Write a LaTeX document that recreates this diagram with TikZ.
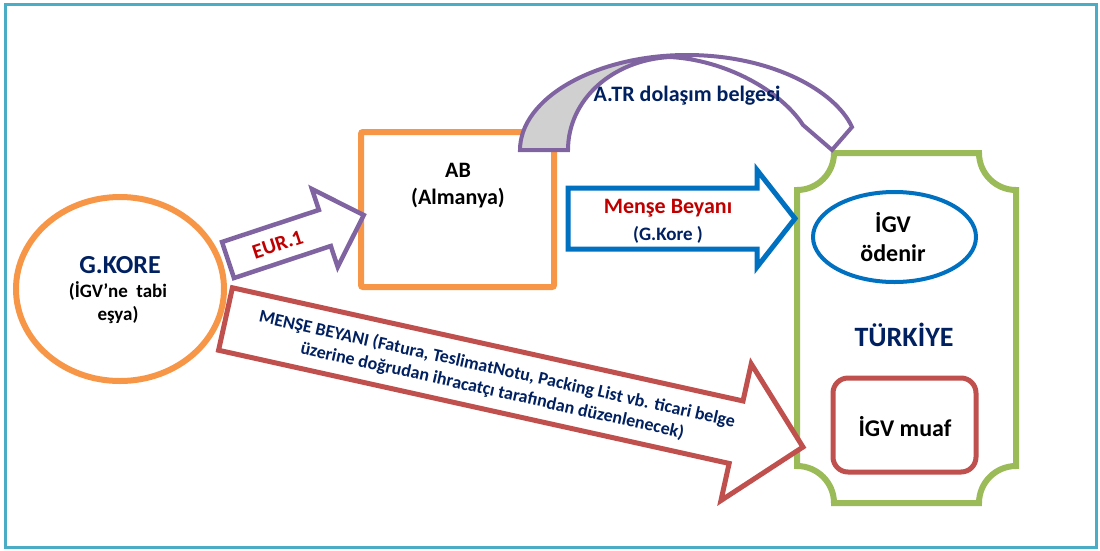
\documentclass[tikz,border=0pt]{standalone}
\usepackage{fontspec}
\setmainfont{Carlito}
\usetikzlibrary{shapes.geometric}
\definecolor{frameblue}{HTML}{4BACC6}
\definecolor{orng}{HTML}{F79646}
\definecolor{purp}{HTML}{8064A2}
\definecolor{blu}{HTML}{0070C0}
\definecolor{grn}{HTML}{9BBB59}
\definecolor{redd}{HTML}{C0504D}
\definecolor{navy}{HTML}{002060}
\definecolor{darkred}{HTML}{C00000}
\definecolor{greyfill}{HTML}{D0D0D0}
\newcommand{\fsz}[2]{\fontsize{#1}{#2}\selectfont}
\begin{document}
\begin{tikzpicture}[x=1pt,y=-1pt,
  txt/.style={inner sep=0pt, align=center, font=\bfseries},
  blockarrow/.style={line width=#1, fill=white, line join=miter, miter limit=10},
  ]
\useasboundingbox (0,0) rectangle (1100,550);
\draw[frameblue, line width=3] (5,4) rectangle (1096,547);

% G.KORE ellipse
\node[draw=orng, line width=6, ellipse, minimum width=208, minimum height=184, inner sep=0] (gkore) at (120,289) {};
\node[txt, text=navy, font=\bfseries\fsz{26}{30}] (gkoreA) at (120,265) {G.KORE};
\node[txt, text=black, font=\bfseries\fsz{19}{23}] (gkoreB) at (118,291) {(İGV’ne\ \ tabi};
\node[txt, text=black, font=\bfseries\fsz{19}{23}] (gkoreC) at (118,315) {eşya)};

% AB box
\node[draw=orng, line width=6, rounded corners=2, minimum width=193, minimum height=155, inner sep=0] (ab) at (457.5,209.5) {};
\node[txt, text=black, font=\bfseries\fsz{22}{26}] (abA) at (458,170) {AB};
\node[txt, text=black, font=\bfseries\fsz{22}{26}] (abB) at (458,198) {(Almanya)};

% Turkiye plaque
\draw[grn, line width=6, fill=white]
  (834,153) -- (979,153) .. controls (979,173.4) and (995.6,190) .. (1016,190)
  -- (1016,466) .. controls (995.6,466) and (979,482.6) .. (979,503)
  -- (834,503) .. controls (834,482.6) and (817.4,466) .. (797,466)
  -- (797,190) .. controls (817.4,190) and (834,173.4) .. (834,153) -- cycle;
\node[draw=blu, line width=4, ellipse, minimum width=163, minimum height=90, inner sep=0] (odenir) at (894.5,237) {};
\node[txt, text=black, font=\bfseries\fsz{24}{28}] (odenirA) at (893,223) {İGV};
\node[txt, text=black, font=\bfseries\fsz{24}{28}] (odenirB) at (893,253) {ödenir};
\node[txt, text=navy, font=\bfseries\fsz{28}{32}] (tr) at (904,335) {TÜRKİYE};
\node[draw=redd, line width=5, rounded corners=15, minimum width=143, minimum height=94, inner sep=0] (muaf) at (904.5,425) {};
\node[txt, text=black, font=\bfseries\fsz{24}{28}] (muafT) at (905,427) {İGV muaf};

% EUR.1 arrow
\begin{scope}[shift={(228,260)}, rotate=18.3]
  \draw[purp, blockarrow=4.5] (0,-19) -- (102,-19) -- (102,-41) -- (143,0) -- (102,41) -- (102,19) -- (0,19) -- cycle;
  \node[txt, transform shape, text=darkred, font=\bfseries\fsz{21}{25}] (eur) at (52,1) {EUR.1};
\end{scope}

% Mense Beyani arrow (blue)
\draw[blu, blockarrow=5] (568,188) -- (757,188) -- (757,170) -- (795,218.5) -- (757,267) -- (757,249) -- (568,249) -- cycle;
\node[txt, text=darkred, font=\bfseries\fsz{22}{26}] (mb) at (668,208) {Menşe Beyanı};
\node[txt, text=navy, font=\bfseries\fsz{19}{23}] (mbk) at (668,235) {(G.Kore )};

% big red arrow
\begin{scope}[shift={(225.5,319)}, rotate=-12.5]
  \draw[redd, blockarrow=5] (0,-32) -- (523,-32) -- (523,-70) -- (591.5,0) -- (523,70) -- (523,32) -- (0,32) -- cycle;
  \node[txt, transform shape, text=navy, font=\bfseries\fsz{18}{22}] (mbig) at (276,1.5)
    {MENŞE BEYANI (Fatura, TeslimatNotu, Packing List vb. ticari belge\\üzerine doğrudan ihracatçı tarafından düzenlenecek)};
\end{scope}

% curved A.TR arrow
\fill[white] (520,150) .. controls (520,98) and (596,55) .. (687,55)
  .. controls (770,55) and (835,90) .. (852,127) -- (832,150) -- (803,125)
  .. controls (780,90) and (725,60) .. (670,57)
  .. controls (612,60) and (568,100) .. (568,150) -- cycle;
\fill[greyfill] (520,150) .. controls (520,98) and (596,55) .. (687,55) -- (670,57)
  .. controls (612,60) and (568,100) .. (568,150) -- cycle;
\draw[purp, line width=4, line join=miter] (520,150) .. controls (520,98) and (596,55) .. (687,55)
  .. controls (770,55) and (835,90) .. (852,127) -- (832,150) -- (803,125)
  .. controls (780,90) and (725,60) .. (670,57)
  .. controls (612,60) and (568,100) .. (568,150) -- cycle;
\node[txt, text=navy, font=\bfseries\fsz{22}{26}, anchor=base] (atr) at (687,101) {A.TR dolaşım belgesi};
\end{tikzpicture}
\end{document}
